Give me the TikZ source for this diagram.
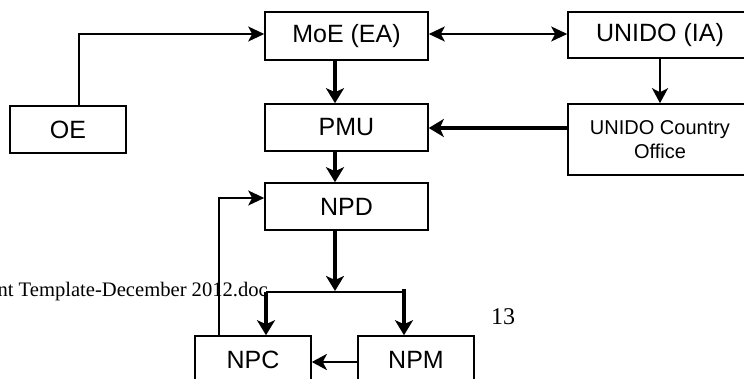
\documentclass[tikz,border=0pt]{standalone}
\usepackage{fontspec}
\setmainfont{Liberation Sans}
\newfontfamily\docserif{Liberation Serif}
\usetikzlibrary{arrows.meta}
\tikzset{
  box/.style={draw, line width=1.6pt, inner sep=0pt, font=\fontsize{25}{28}\selectfont},
  thinarrow/.style={line width=2pt, -{Stealth[length=16pt,width=15pt,inset=4pt]}},
  thinline/.style={line width=2pt},
  thickarrow/.style={line width=4.5pt, -{Stealth[length=15pt,width=18pt,inset=4pt]}},
  medarrow/.style={line width=2.6pt, -{Stealth[length=15pt,width=16pt,inset=4pt]}},
}
\begin{document}
\begin{tikzpicture}[x=1pt,y=-1pt]
\useasboundingbox (0,0) rectangle (744,379);
\clip (0,0) rectangle (744,379);
\fill[white] (0,0) rectangle (744,379);

% document footer texts
\node[anchor=base east, inner sep=0pt, font=\docserif\fontsize{20.6}{22}\selectfont] (foot) at (268,296) {nt Template-December 2012.doc};
\node[anchor=base west, inner sep=0pt, font=\docserif\fontsize{24}{26}\selectfont] (pg) at (491,324) {13};

% boxes
\node[box, minimum width=163pt, minimum height=48pt] (moe) at (346.5,36) {MoE (EA)};
\node[box, minimum width=184pt, minimum height=46pt] (unido) at (660,35) {UNIDO (IA)};
\node[box, minimum width=116pt, minimum height=47pt] (oe) at (68,129.5) {OE};
\node[box, minimum width=163pt, minimum height=47pt] (pmu) at (346.5,127.5) {PMU};
\node[box, minimum width=184pt, minimum height=71pt, align=center, font=\fontsize{20}{24}\selectfont] (uco) at (660,139.5) {UNIDO Country\\Office};
\node[box, minimum width=163pt, minimum height=47pt] (npd) at (346.5,206.5) {NPD};
\node[box, minimum width=116pt, minimum height=47pt] (npc) at (253,359.5) {NPC};
\node[box, minimum width=116pt, minimum height=47pt] (npm) at (416,359.5) {NPM};

% helper coordinates
\coordinate (oeup) at (79,34);
\coordinate (mx) at (335,0);
\coordinate (bm) at (335,291);
\coordinate (bl) at (266,292);
\coordinate (br) at (404,292);
\coordinate (brtop) at (404,289);
\coordinate (fb) at (219,198);

% connectors
\draw[thinarrow] (oe.north -| oeup) -- (oeup) -- (moe.west |- oeup);
\draw[line width=2pt, {Stealth[length=16pt,width=15pt,inset=4pt]}-{Stealth[length=16pt,width=15pt,inset=4pt]}] (moe.east |- oeup) -- (unido.west |- oeup);
\draw[thickarrow] (moe.south -| mx) -- (pmu.north -| mx);
\draw[line width=2.2pt, -{Stealth[length=15pt,width=16pt,inset=4pt]}] (unido.south) -- (uco.north);
\draw[thickarrow] (uco.west |- 0,128) -- (pmu.east |- 0,128);
\draw[thickarrow] (pmu.south -| mx) -- (npd.north -| mx);
\draw[thickarrow] (npd.south -| mx) -- (bm);
\draw[thinline] (bl) -- (br);
\draw[thickarrow] (bl) -- (npc.north -| bl);
\draw[thickarrow] (brtop) -- (npm.north -| br);
\draw[medarrow] (npm.west |- 0,362) -- (npc.east |- 0,362);
\draw[thinarrow] (npc.north -| fb) -- (fb) -- (npd.west |- fb);
\end{tikzpicture}
\end{document}
